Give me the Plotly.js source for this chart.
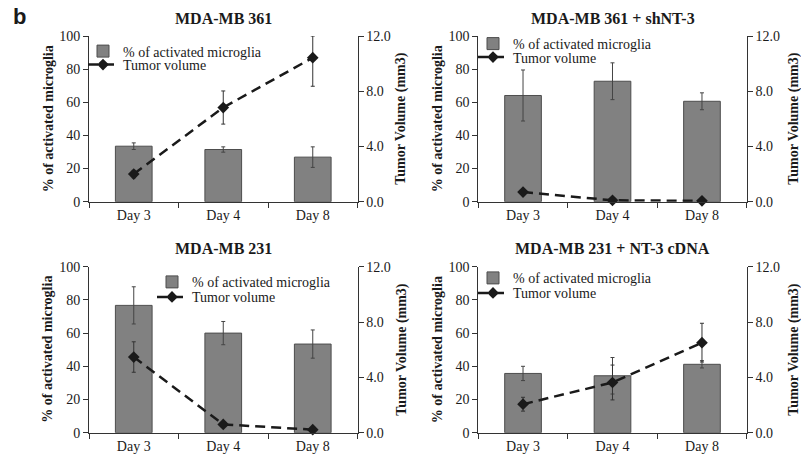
<!DOCTYPE html>
<html>
<head>
<meta charset="utf-8">
<script src="https://cdn.plot.ly/plotly-3.0.1.min.js"></script>
<style>html,body{margin:0;padding:0;background:#fff;}#chart{width:801px;height:456px;}</style>
</head>
<body>
<div id="chart"></div>
<script>
// ---- Data ----
const days = ["Day 3", "Day 4", "Day 8"];
const panelTitles = ["MDA-MB 361", "MDA-MB 361 + shNT-3", "MDA-MB 231", "MDA-MB 231 + NT-3 cDNA"];
const barName = "% of activated microglia";
const lineName = "Tumor volume";
const leftTitle = "% of activated microglia";
const rightTitle = "Tumor Volume (mm3)";

const p1Microglia = [33.5, 31.5, 26.9];
const p1MicrogliaErr = [2.0, 1.6, 6.2];
const p1Tumor = [2.0, 6.82, 10.43];
const p1TumorErrPlus = [0.27, 1.2, 1.57];
const p1TumorErrMinus = [0.27, 1.2, 2.07];

const p2Microglia = [64.1, 72.7, 60.6];
const p2MicrogliaErr = [15.4, 11.1, 5.1];
const p2Tumor = [0.70, 0.10, 0.06];
const p2TumorErrPlus = [0, 0, 0];
const p2TumorErrMinus = [0, 0, 0];

const p3Microglia = [76.7, 60.0, 53.4];
const p3MicrogliaErr = [11.2, 7.0, 8.5];
const p3Tumor = [5.47, 0.60, 0.22];
const p3TumorErrPlus = [1.1, 0, 0];
const p3TumorErrMinus = [1.1, 0, 0];

const p4Microglia = [35.7, 34.3, 41.2];
const p4MicrogliaErr = [4.3, 11.0, 2.2];
const p4Tumor = [2.06, 3.63, 6.51];
const p4TumorErrPlus = [0.5, 1.26, 1.4];
const p4TumorErrMinus = [0.5, 1.26, 1.4];

const leftTicks = [0, 20, 40, 60, 80, 100];
const rightTicks = [0, 4, 8, 12];

// ---- Layout geometry (pixels in 801x456 figure) ----
const W = 801, H = 456;
const px = v => v / W;
const py = v => 1 - v / H;
const cols = [[89, 357.5], [478.3, 746.7]];
const rows = [[36, 201.7], [266.7, 432.7]];

const serif = "Liberation Serif, Times New Roman, serif";
const axisColor = "#333";

const panels = [
  {mic: p1Microglia, micErr: p1MicrogliaErr, tum: p1Tumor, tp: p1TumorErrPlus, tm: p1TumorErrMinus},
  {mic: p2Microglia, micErr: p2MicrogliaErr, tum: p2Tumor, tp: p2TumorErrPlus, tm: p2TumorErrMinus},
  {mic: p3Microglia, micErr: p3MicrogliaErr, tum: p3Tumor, tp: p3TumorErrPlus, tm: p3TumorErrMinus},
  {mic: p4Microglia, micErr: p4MicrogliaErr, tum: p4Tumor, tp: p4TumorErrPlus, tm: p4TumorErrMinus}
];
// legend placement: [legend left x, row1 center y, row2 center y]
const legendPos = [[83, 46.5, 65], [473, 39, 57.5], [152, 277.3, 297.3], [473, 273.3, 293.3]];
const rightTitleX = [401, 794, 402, 794];
const leftTitleX = [48.5, 437.5, 48, 437.5];

const traces = [];
const layout = {
  width: W, height: H,
  margin: {l: 0, r: 0, t: 0, b: 0},
  paper_bgcolor: "#fff", plot_bgcolor: "rgba(0,0,0,0)",
  showlegend: true,
  font: {family: serif, size: 14, color: "#1a1a1a"},
  annotations: [],
  bargap: 0.59
};

function legendObj(x, yc) {
  return {
    x: px(x), y: py(yc - 11), xanchor: "left", yanchor: "top",
    bgcolor: "rgba(0,0,0,0)", borderwidth: 0, font: {family: serif, size: 14, color: "#1a1a1a"},
    itemwidth: 30
  };
}

panels.forEach((p, i) => {
  const n = i + 1;
  const col = cols[i % 2], row = rows[Math.floor(i / 2)];
  const xa = n === 1 ? "x" : "x" + n;
  const yl = 2 * i + 1, yr = 2 * i + 2;
  const yla = yl === 1 ? "y" : "y" + yl;
  const yra = "y" + yr;
  const legA = "legend" + (2 * i + 1 === 1 ? "" : 2 * i + 1);
  const legB = "legend" + (2 * i + 2);

  traces.push({
    type: "bar", x: days, y: p.mic, name: barName, xaxis: xa, yaxis: yla, legend: legA,
    width: 0.41,
    marker: {color: "#818181", line: {color: "#4d4d4d", width: 1}},
    error_y: {type: "data", array: p.micErr, visible: true, color: "#444", thickness: 1, width: 2},
    hoverinfo: "skip"
  });
  traces.push({
    type: "scatter", mode: "lines+markers", x: days, y: p.tum, name: lineName, xaxis: xa, yaxis: yra, legend: legB,
    line: {color: "#1a1a1a", width: 2.5, dash: "10px,6px"},
    marker: {symbol: "diamond", size: 9, color: "#1a1a1a"},
    error_y: {type: "data", symmetric: false, array: p.tp, arrayminus: p.tm, visible: true, color: "#333", thickness: 1, width: 2},
    cliponaxis: false,
    hoverinfo: "skip"
  });

  const xKey = n === 1 ? "xaxis" : "xaxis" + n;
  layout[xKey] = {
    domain: [px(col[0]), px(col[1])], anchor: yla, type: "category", range: [-0.5, 2.5],
    showline: true, linecolor: axisColor, linewidth: 1, ticks: "outside", tickson: "boundaries",
    ticklen: 5, tickcolor: axisColor, showgrid: false, zeroline: false,
    tickfont: {family: serif, size: 14, color: "#1a1a1a"}, fixedrange: true
  };
  const ylKey = yl === 1 ? "yaxis" : "yaxis" + yl;
  layout[ylKey] = {
    domain: [py(row[1]), py(row[0])], anchor: xa, range: [0, 100], tickvals: leftTicks,
    showline: true, linecolor: axisColor, linewidth: 1, ticks: "outside", ticklen: 5, tickcolor: axisColor,
    showgrid: false, zeroline: false, tickfont: {family: serif, size: 14, color: "#1a1a1a"}, fixedrange: true
  };
  layout["yaxis" + yr] = {
    overlaying: yla, anchor: xa, side: "right", range: [0, 12], tickvals: rightTicks, tickformat: ".1f",
    showline: true, linecolor: axisColor, linewidth: 1, ticks: "outside", ticklen: 5, tickcolor: axisColor,
    showgrid: false, zeroline: false, tickfont: {family: serif, size: 14, color: "#1a1a1a"}, fixedrange: true
  };
  const lp = legendPos[i];
  layout[legA] = legendObj(lp[0], lp[1]);
  layout[legB] = legendObj(lp[0], lp[2] - 5);

  layout.annotations.push({
    text: "<b>" + panelTitles[i] + "</b>", xref: "paper", yref: "paper",
    x: px((col[0] + col[1]) / 2), y: py(i < 2 ? 19 : 248), xanchor: "center", yanchor: "middle",
    showarrow: false, font: {family: serif, size: 16, color: "#1a1a1a"}
  });
  layout.annotations.push({
    text: "<b>" + leftTitle + "</b>", xref: "paper", yref: "paper", textangle: -90,
    x: px(leftTitleX[i]), y: py((row[0] + row[1]) / 2), xanchor: "center", yanchor: "middle",
    showarrow: false, font: {family: serif, size: 14, color: "#1a1a1a"}
  });
  layout.annotations.push({
    text: "<b>" + rightTitle + "</b>", xref: "paper", yref: "paper", textangle: -90,
    x: px(rightTitleX[i]), y: py((row[0] + row[1]) / 2), xanchor: "center", yanchor: "middle",
    showarrow: false, font: {family: serif, size: 14, color: "#1a1a1a"}
  });
});

layout.annotations.push({
  text: "<b>b</b>", xref: "paper", yref: "paper", x: px(11), y: py(17), xanchor: "left", yanchor: "middle",
  showarrow: false, font: {family: "Liberation Sans, Arial, sans-serif", size: 22, color: "#1a1a1a"}
});

Plotly.newPlot("chart", traces, layout, {displayModeBar: false, staticPlot: true});
</script>
</body>
</html>
